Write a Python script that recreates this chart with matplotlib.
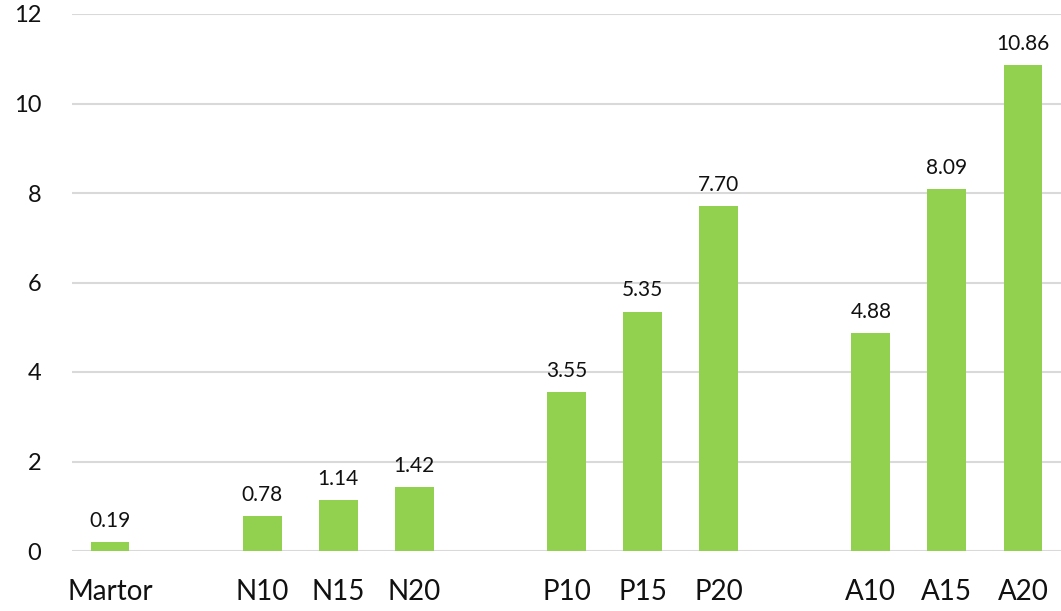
import matplotlib
matplotlib.use("Agg")
import matplotlib.pyplot as plt

# bar groups separated by an empty slot
categories = ["Martor", "", "N10", "N15", "N20", "", "P10", "P15", "P20", "", "A10", "A15", "A20"]
values = [0.19, None, 0.78, 1.14, 1.42, None, 3.55, 5.35, 7.70, None, 4.88, 8.09, 10.86]
y_ticks = [0, 2, 4, 6, 8, 10, 12]

plt.rcParams["font.family"] = ["Lato", "DejaVu Sans"]

fig = plt.figure(figsize=(10.61, 6.11), dpi=100)
ax = fig.add_axes([72 / 1061, 60 / 611, 989 / 1061, 537 / 611])

bar_color = "#92D050"
for i, v in enumerate(values):
    if v is None:
        continue
    ax.bar(i, v, width=0.51, color=bar_color, zorder=3)
    ax.annotate(f"{v:.2f}", (i, v), xytext=(0, 8), textcoords="offset points",
                ha="center", va="bottom", fontsize=15, color="#111111")

ax.set_xlim(-0.5, len(categories) - 0.5)
ax.set_ylim(0, 12)
ax.set_yticks(y_ticks)
ax.set_yticklabels([str(t) for t in y_ticks], fontsize=17)
ax.set_xticks(range(len(categories)))
ax.set_xticklabels(categories, fontsize=20)
ax.tick_params(axis="both", length=0, colors="#111111")
ax.tick_params(axis="y", pad=22)
ax.tick_params(axis="x", pad=20)

ax.grid(axis="y", color="#d9d9d9", linewidth=1.5, zorder=0)
for side in ["top", "right", "left", "bottom"]:
    ax.spines[side].set_visible(False)

fig.savefig("out.png", dpi=100)
plt.close(fig)
